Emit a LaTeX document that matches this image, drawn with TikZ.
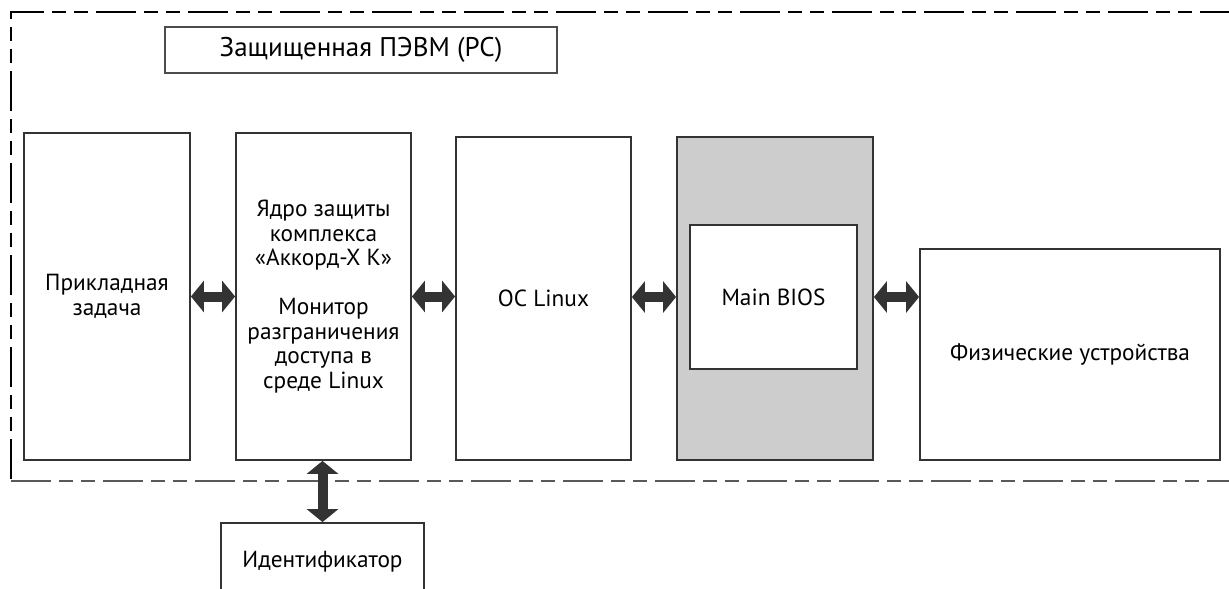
\documentclass[tikz,border=0pt]{standalone}
\usepackage{fontspec}
\setmainfont{PT Sans}
\usetikzlibrary{arrows.meta}
\definecolor{boxline}{HTML}{333333}
\definecolor{arrowc}{HTML}{333333}
\definecolor{biosgray}{HTML}{CDCDCD}
\begin{document}
\begin{tikzpicture}[x=1pt,y=-1pt,
  blk/.style={draw=boxline,line width=1.8pt,fill=white,rectangle,inner sep=0pt,
    align=center,font=\fontsize{23.3}{24.5}\selectfont},
  fat/.style={line width=10pt,draw=arrowc,
    {Triangle[length=13pt,width=31pt]}-{Triangle[length=13pt,width=31pt]}},
  frame/.style={line width=1.8pt,dash pattern=on 40pt off 8pt on 14pt off 8pt on 14pt off 8pt}]
\clip (0,0) rectangle (1229,589);
\fill[white] (0,0) rectangle (1229,589);
% outer dashed frame
\draw[frame,black] (1240,12) -- (11,12) -- (11,481);
\draw[frame,black!65] (11,481) -- (1240,481);
% title
\node[blk,draw=black!70,minimum width=392pt,minimum height=46pt,font=\fontsize{27}{30}\selectfont] (title) at (361,50) {Защищенная ПЭВМ (PC)};
% boxes
\node[blk,minimum width=166pt,minimum height=327pt] (b1) at (107,296.5) {Прикладная\\задача};
\node[blk,minimum width=175pt,minimum height=327pt] (b2) at (323.5,296.5) {Ядро защиты\\комплекса\\«Аккорд-Х К»\\[24.5pt]Монитор\\разграничения\\доступа в\\среде Linux};
\node[blk,minimum width=175pt,minimum height=323pt] (b3) at (543.5,298.5) {OC Linux};
\node[blk,fill=biosgray,minimum width=196pt,minimum height=323pt] (b4) at (775,298.5) {};
\node[blk,minimum width=167pt,minimum height=144pt] (bios) at (773.5,297) {Main BIOS};
\node[blk,minimum width=300pt,minimum height=211pt] (b5) at (1070,354.5) {Физические устройства};
\node[blk,minimum width=203pt,minimum height=77pt] (ident) at (322.5,561.5) {\raisebox{3pt}{Идентификатор}};
% connectors
\draw[fat] (b1.east) -- (b1.east -| b2.west);
\draw[fat] (b2.east |- b1.east) -- (b1.east -| b3.west);
\draw[fat] (b3.east |- bios.center) -- (bios.center -| b4.west);
\draw[fat] (b4.east |- bios.center) -- (bios.center -| b5.west);
\draw[fat] (ident.north |- b2.south) -- (ident.north);
\end{tikzpicture}
\end{document}
